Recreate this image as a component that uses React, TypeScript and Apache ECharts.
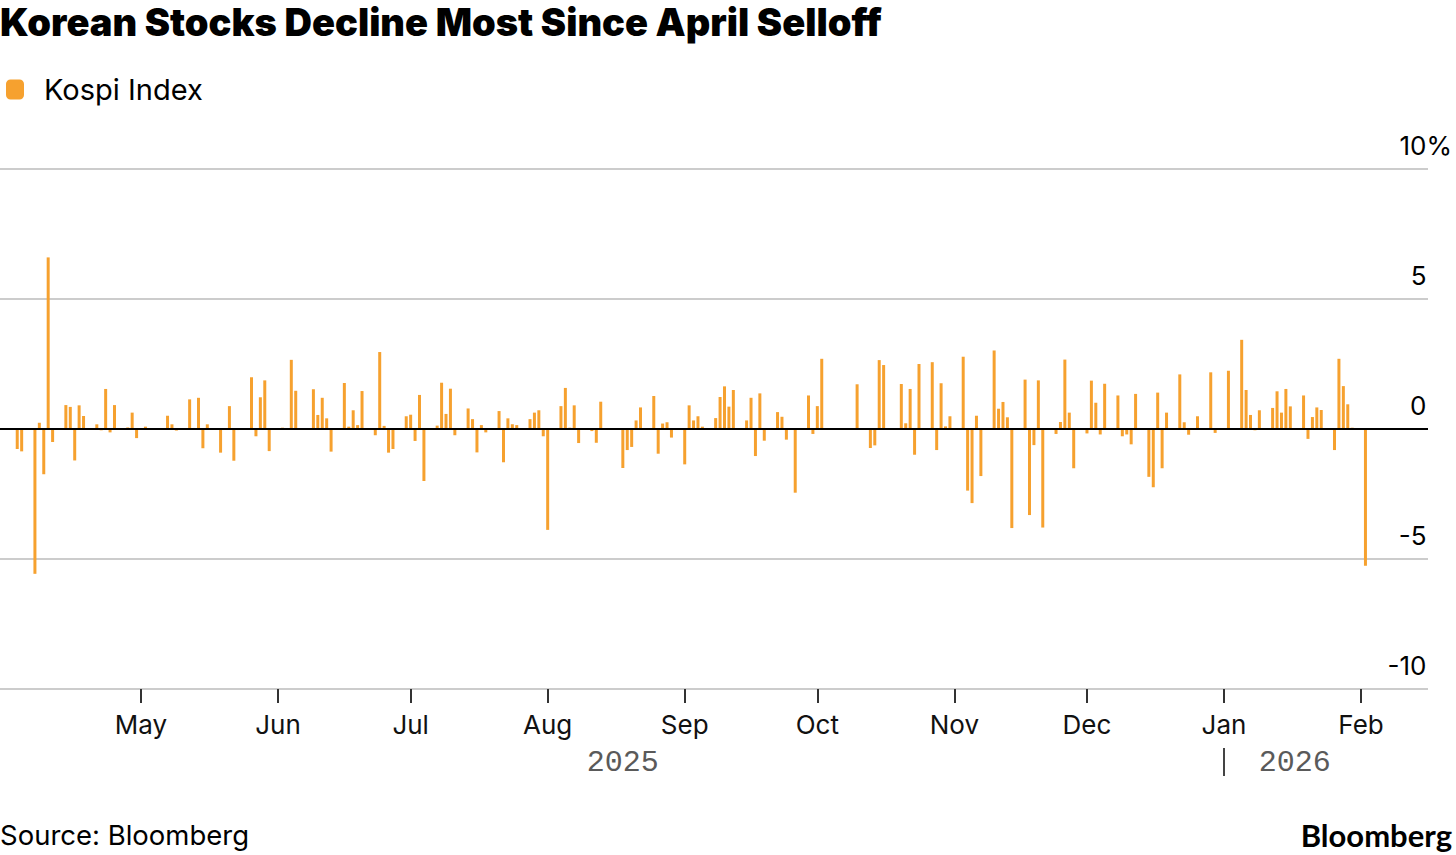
import React, { useEffect, useRef } from "react";
import * as echarts from "echarts";

const TITLE = "Korean Stocks Decline Most Since April Selloff";
const SERIES_NAME = "Kospi Index";
const SOURCE = "Source: Bloomberg";
const LOGO = "Bloomberg";

const tradeDates = [
  "2025-04-03","2025-04-04","2025-04-07","2025-04-08","2025-04-09","2025-04-10","2025-04-11",
  "2025-04-14","2025-04-15","2025-04-16","2025-04-17","2025-04-18",
  "2025-04-21","2025-04-22","2025-04-23","2025-04-24","2025-04-25",
  "2025-04-28","2025-04-29","2025-04-30","2025-05-02",
  "2025-05-07","2025-05-08","2025-05-09",
  "2025-05-12","2025-05-13","2025-05-14","2025-05-15","2025-05-16",
  "2025-05-19","2025-05-20","2025-05-21","2025-05-22","2025-05-23",
  "2025-05-26","2025-05-27","2025-05-28","2025-05-29","2025-05-30",
  "2025-06-02","2025-06-04","2025-06-05",
  "2025-06-09","2025-06-10","2025-06-11","2025-06-12","2025-06-13",
  "2025-06-16","2025-06-17","2025-06-18","2025-06-19","2025-06-20",
  "2025-06-23","2025-06-24","2025-06-25","2025-06-26","2025-06-27",
  "2025-06-30","2025-07-01","2025-07-02","2025-07-03","2025-07-04",
  "2025-07-07","2025-07-08","2025-07-09","2025-07-10","2025-07-11",
  "2025-07-14","2025-07-15","2025-07-16","2025-07-17","2025-07-18",
  "2025-07-21","2025-07-22","2025-07-23","2025-07-24","2025-07-25",
  "2025-07-28","2025-07-29","2025-07-30","2025-07-31","2025-08-01",
  "2025-08-04","2025-08-05","2025-08-06","2025-08-07","2025-08-08",
  "2025-08-11","2025-08-12","2025-08-13","2025-08-14",
  "2025-08-18","2025-08-19","2025-08-20","2025-08-21","2025-08-22",
  "2025-08-25","2025-08-26","2025-08-27","2025-08-28","2025-08-29",
  "2025-09-01","2025-09-02","2025-09-03","2025-09-04","2025-09-05",
  "2025-09-08","2025-09-09","2025-09-10","2025-09-11","2025-09-12",
  "2025-09-15","2025-09-16","2025-09-17","2025-09-18","2025-09-19",
  "2025-09-22","2025-09-23","2025-09-24","2025-09-25","2025-09-26",
  "2025-09-29","2025-09-30","2025-10-01","2025-10-02",
  "2025-10-10",
  "2025-10-13","2025-10-14","2025-10-15","2025-10-16","2025-10-17",
  "2025-10-20","2025-10-21","2025-10-22","2025-10-23","2025-10-24",
  "2025-10-27","2025-10-28","2025-10-29","2025-10-30","2025-10-31",
  "2025-11-03","2025-11-04","2025-11-05","2025-11-06","2025-11-07",
  "2025-11-10","2025-11-11","2025-11-12","2025-11-13","2025-11-14",
  "2025-11-17","2025-11-18","2025-11-19","2025-11-20","2025-11-21",
  "2025-11-24","2025-11-25","2025-11-26","2025-11-27","2025-11-28",
  "2025-12-01","2025-12-02","2025-12-03","2025-12-04","2025-12-05",
  "2025-12-08","2025-12-09","2025-12-10","2025-12-11","2025-12-12",
  "2025-12-15","2025-12-16","2025-12-17","2025-12-18","2025-12-19",
  "2025-12-22","2025-12-23","2025-12-24","2025-12-26",
  "2025-12-29","2025-12-30","2026-01-02",
  "2026-01-05","2026-01-06","2026-01-07","2026-01-08","2026-01-09",
  "2026-01-12","2026-01-13","2026-01-14","2026-01-15","2026-01-16",
  "2026-01-19","2026-01-20","2026-01-21","2026-01-22","2026-01-23",
  "2026-01-26","2026-01-27","2026-01-28","2026-01-29","2026-01-30",
  "2026-02-02",
];

const kospiChange = [
  -0.77, -0.86, -5.57, 0.24, -1.74, 6.6, -0.5,
  0.92, 0.85, -1.21, 0.91, 0.5,
  0.18, -0.05, 1.54, -0.13, 0.92,
  0.06, 0.63, -0.35, 0.09,
  0.51, 0.18, -0.06,
  1.14, 0.04, 1.2, -0.74, 0.18,
  -0.91, 0.03, 0.88, -1.22, -0.04,
  1.99, -0.28, 1.22, 1.87, -0.85,
  0.05, 2.66, 1.47,
  1.53, 0.54, 1.2, 0.41, -0.87,
  1.77, 0.09, 0.72, 0.15, 1.46,
  -0.24, 2.96, 0.12, -0.91, -0.77,
  0.49, 0.55, -0.46, 1.31, -2.0,
  0.13, 1.78, 0.58, 1.55, -0.24,
  0.79, 0.38, -0.9, 0.15, -0.13,
  0.69, -1.28, 0.41, 0.18, 0.15,
  0.38, 0.63, 0.72, -0.28, -3.88,
  0.88, 1.58, 0.05, 0.91, -0.54,
  -0.08, -0.53, 1.05, 0.03,
  -1.5, -0.81, -0.69, 0.33, 0.83,
  1.27, -0.95, 0.21, 0.26, -0.33,
  -1.36, 0.91, 0.33, 0.49, 0.09,
  0.42, 1.23, 1.64, 0.86, 1.5,
  0.33, 1.2, -1.04, 1.37, -0.45,
  0.65, 0.47, -0.41, 0.03, -2.45,
  1.29, -0.19, 0.88, 2.7,
  1.72,
  -0.73, -0.63, 2.65, 2.46, 0.03,
  1.73, 0.22, 1.54, -0.99, 2.5,
  2.57, -0.81, 1.76, 0.1, 0.49,
  2.78, -2.37, -2.85, 0.51, -1.81,
  3.02, 0.78, 1.04, 0.45, -3.81,
  1.9, -3.31, -0.62, 1.87, -3.79,
  -0.19, 0.27, 2.67, 0.63, -1.51,
  -0.17, 1.86, 1.01, -0.21, 1.74,
  1.29, -0.28, -0.21, -0.59, 1.35,
  -1.84, -2.24, 1.4, -1.51, 0.63,
  2.1, 0.26, -0.22, 0.49,
  2.18, -0.15, 2.24,
  3.43, 1.5, 0.54, -0.05, 0.72,
  0.81, 1.45, 0.63, 1.54, 0.87,
  1.29, -0.38, 0.46, 0.83, 0.73,
  -0.81, 2.7, 1.65, 0.95, 0.05,
  -5.26,
];

const monthTickDates = [
  "2025-05-01","2025-06-01","2025-07-01","2025-08-01","2025-09-01",
  "2025-10-01","2025-11-01","2025-12-01","2026-01-01","2026-02-01",
];
const monthTickLabels = ["May","Jun","Jul","Aug","Sep","Oct","Nov","Dec","Jan","Feb"];

const yearBreakDate = "2026-01-01";
const yearLabels = ["2025", "2026"];
const yearLabelDates = ["2025-08-18", "2026-01-17"];

const Y_MIN = -10;
const Y_MAX = 10;
const Y_STEP = 5;

const DAY = 86400000;
const ORIGIN = Date.UTC(2025, 4, 1);
const dayIndex = (iso: string) => {
  const [y, m, d] = iso.split("-").map(Number);
  return (Date.UTC(y, m - 1, d) - ORIGIN) / DAY;
};

// visible date range of the plot (in days from May 1, 2025)
const X_MIN = -31.9;
const X_MAX = 291.15;

const ORANGE = "#F6A12F";
const FONT = "Inter";

export default function App() {
  const ref = useRef<HTMLDivElement>(null);

  useEffect(() => {
    if (!ref.current) return;
    const chart = echarts.init(ref.current, undefined, { renderer: "svg" });

    const barData = tradeDates.map((d, i) => [dayIndex(d), kospiChange[i]]);
    const monthDays = monthTickDates.map(dayIndex);
    const yearDays = yearLabelDates.map(dayIndex);
    const breakDay = dayIndex(yearBreakDate);

    const option: any = {
      animation: false,
      backgroundColor: "#ffffff",
      textStyle: { fontFamily: FONT },
      title: [
        {
          text: TITLE,
          left: 0,
          top: 3,
          padding: 0,
          textStyle: { fontFamily: FONT, fontSize: 38, fontWeight: 900, color: "#000" },
        },
        {
          text: SOURCE,
          left: 0,
          top: 821,
          padding: 0,
          textStyle: { fontFamily: FONT, fontSize: 27.5, fontWeight: "normal", color: "#000" },
        },
        {
          text: LOGO,
          right: 4,
          top: 819,
          padding: 0,
          textStyle: { fontFamily: "Lato", fontSize: 31, fontWeight: "bold", color: "#000" },
        },
      ],
      legend: {
        data: [SERIES_NAME],
        left: 6,
        top: 75,
        padding: 0,
        icon: "roundRect",
        itemWidth: 18,
        itemHeight: 20,
        selectedMode: false,
        textStyle: { fontFamily: FONT, fontSize: 29, color: "#000", padding: [0, 0, 0, 15] },
      },
      grid: {
        left: 0,
        right: 28,
        top: 169,
        bottom: 166,
        containLabel: false,
        outerBoundsMode: "none",
      },
      xAxis: [
        {
          type: "value",
          min: X_MIN,
          max: X_MAX,
          position: "bottom",
          axisLine: { show: false, onZero: false },
          splitLine: { show: false },
          axisTick: {
            show: true,
            customValues: monthDays,
            length: 14,
            lineStyle: { color: "#333", width: 2 },
          },
          axisLabel: {
            show: true,
            customValues: monthDays,
            formatter: (v: number) => {
              const i = monthDays.findIndex((m) => Math.abs(m - v) < 0.01);
              return i >= 0 ? monthTickLabels[i] : "";
            },
            margin: 22,
            fontFamily: FONT,
            fontSize: 26,
            color: "#111",
          },
        },
        {
          type: "value",
          min: X_MIN,
          max: X_MAX,
          position: "bottom",
          offset: 59,
          axisLine: { show: false, onZero: false },
          splitLine: { show: false },
          axisTick: {
            show: true,
            customValues: [breakDay],
            length: 28,
            lineStyle: { color: "#444", width: 2 },
          },
          axisLabel: {
            show: true,
            customValues: yearDays,
            formatter: (v: number) => (v < breakDay ? yearLabels[0] : yearLabels[1]),
            margin: 0,
            fontFamily: "Liberation Mono",
            fontSize: 30,
            color: "#5a5a5a",
          },
        },
      ],
      yAxis: {
        type: "value",
        min: Y_MIN,
        max: Y_MAX,
        interval: Y_STEP,
        position: "right",
        axisLine: { show: false },
        axisTick: { show: false },
        splitLine: { show: true, lineStyle: { color: "#cccccc", width: 2 } },
        axisLabel: {
          show: true,
          margin: 24,
          align: "right",
          verticalAlign: "bottom",
          padding: [0, 0, 11, 0],
          lineHeight: 26,
          fontFamily: FONT,
          fontSize: 26,
          color: "#000",
          formatter: (v: number) => (v === Y_MAX ? `${v}%` : `${v}{h|%}`),
          rich: {
            h: { color: "rgba(0,0,0,0)", fontFamily: FONT, fontSize: 26, lineHeight: 26 },
          },
        },
      },
      series: [
        {
          name: SERIES_NAME,
          type: "bar",
          xAxisIndex: 0,
          yAxisIndex: 0,
          data: barData,
          barWidth: 3,
          itemStyle: { color: ORANGE },
          markLine: {
            silent: true,
            symbol: ["none", "none"],
            label: { show: false },
            lineStyle: { color: "#000", width: 2, type: "solid" },
            data: [{ yAxis: 0 }],
          },
        },
      ],
    };

    chart.setOption(option);
    return () => chart.dispose();
  }, []);

  return (
    <div
      ref={ref}
      style={{ position: "absolute", left: 0, top: 0, width: 1456, height: 855, background: "#fff" }}
    />
  );
}
